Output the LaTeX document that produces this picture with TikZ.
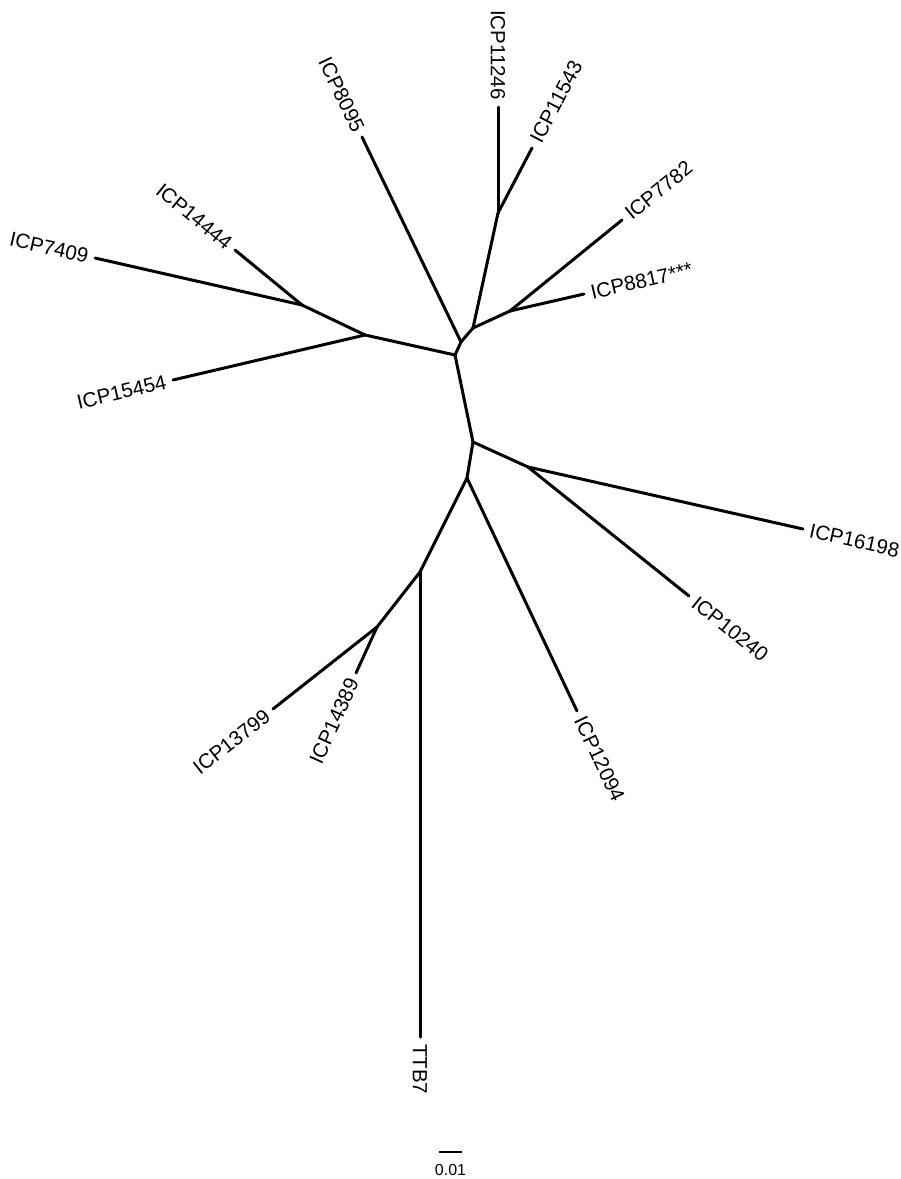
\documentclass[tikz,border=0pt]{standalone}
\usepackage{fontspec}
\setmainfont{Liberation Sans}
\begin{document}
\begin{tikzpicture}[x=1pt,y=-1pt,
  branch/.style={line width=3pt, line cap=round, line join=round},
  tiplabel/.style={font=\fontsize{20.5}{22}\selectfont, inner xsep=7pt, inner ysep=0pt},
  leftlab/.style={tiplabel, anchor=east},
  rightlab/.style={tiplabel, anchor=west},
  scalebar/.style={line width=1.6pt},
  scalelabel/.style={font=\fontsize{16}{18}\selectfont, inner sep=0pt}]
\useasboundingbox (0,0) rectangle (901,1179);
% internal nodes
\coordinate (A) at (455,355);
\coordinate (B) at (461,342);
\coordinate (C) at (473,328);
\coordinate (D) at (498,213);
\coordinate (E) at (510,311);
\coordinate (F) at (365,335);
\coordinate (G) at (302,305);
\coordinate (H) at (473,442);
\coordinate (I) at (528,467);
\coordinate (J) at (467,478);
\coordinate (K) at (420,572);
\coordinate (L) at (377,627);
% tips
\coordinate (t11246) at (498,107);
\coordinate (t11543) at (532,148);
\coordinate (t8095) at (362,137);
\coordinate (t7782) at (622,220);
\coordinate (t8817) at (584,294);
\coordinate (t14444) at (235,250);
\coordinate (t7409) at (95,258);
\coordinate (t15454) at (173,380);
\coordinate (t16198) at (803,529);
\coordinate (t10240) at (689,596);
\coordinate (t12094) at (577,711);
\coordinate (tTTB7) at (420,1037);
\coordinate (t13799) at (273,709);
\coordinate (t14389) at (356,673);
% branches
\draw[branch] (A) -- (B);
\draw[branch] (B) -- (C);
\draw[branch] (A) -- (F);
\draw[branch] (A) -- (H);
\draw[branch] (B) -- (t8095);
\draw[branch] (C) -- (D);
\draw[branch] (C) -- (E);
\draw[branch] (D) -- (t11246);
\draw[branch] (D) -- (t11543);
\draw[branch] (E) -- (t7782);
\draw[branch] (E) -- (t8817);
\draw[branch] (F) -- (G);
\draw[branch] (F) -- (t15454);
\draw[branch] (G) -- (t14444);
\draw[branch] (G) -- (t7409);
\draw[branch] (H) -- (I);
\draw[branch] (H) -- (J);
\draw[branch] (I) -- (t16198);
\draw[branch] (I) -- (t10240);
\draw[branch] (J) -- (t12094);
\draw[branch] (J) -- (K);
\draw[branch] (K) -- (tTTB7);
\draw[branch] (K) -- (L);
\draw[branch] (L) -- (t13799);
\draw[branch] (L) -- (t14389);
% labels
\node[leftlab, rotate=-90] (l11246) at (t11246) {ICP11246};
\node[rightlab, rotate=62.4] (l11543) at (t11543) {ICP11543};
\node[leftlab, rotate=-64.2] (l8095) at (t8095) {ICP8095};
\node[rightlab, rotate=39.1] (l7782) at (t7782) {ICP7782};
\node[rightlab, rotate=12.9] (l8817) at (t8817) {ICP8817***};
\node[leftlab, rotate=-39.4] (l14444) at (t14444) {ICP14444};
\node[leftlab, rotate=-12.8] (l7409) at (t7409) {ICP7409};
\node[leftlab, rotate=13.2] (l15454) at (t15454) {ICP15454};
\node[rightlab, rotate=-12.7] (l16198) at (t16198) {ICP16198};
\node[rightlab, rotate=-38.7] (l10240) at (t10240) {ICP10240};
\node[rightlab, rotate=-64.7] (l12094) at (t12094) {ICP12094};
\node[rightlab, rotate=-90] (lTTB7) at (tTTB7) {TTB7};
\node[leftlab, rotate=38.3] (l13799) at (t13799) {ICP13799};
\node[leftlab, rotate=65.5] (l14389) at (t14389) {ICP14389};
% scale bar
\coordinate (s1) at (439,1152);
\coordinate (s2) at (462,1152);
\draw[scalebar] (s1) -- (s2);
\node[scalelabel] (sl) at (450.5,1170) {0.01};
\end{tikzpicture}
\end{document}
